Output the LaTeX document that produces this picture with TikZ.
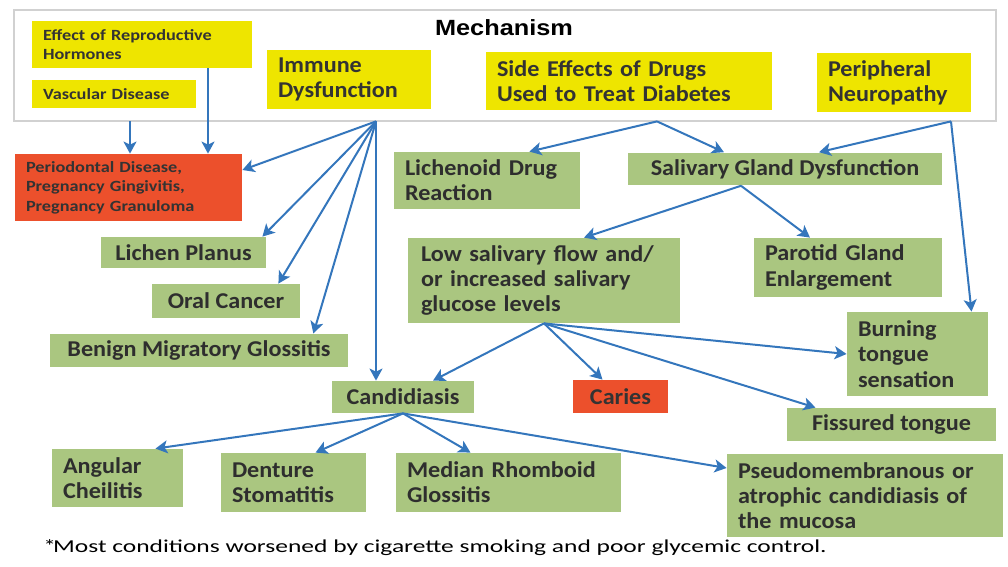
\documentclass[tikz,border=0pt]{standalone}
\usepackage{fontspec}
\setmainfont{Carlito}[FakeStretch=1.07]
\newfontfamily\smallfont{Carlito}[FakeStretch=1.17]
\newfontfamily\notefont{Carlito}[FakeStretch=1.4]
\newfontfamily\headfont{Liberation Sans}[FakeStretch=1.15]
\usetikzlibrary{arrows.meta}
\definecolor{causeyellow}{RGB}{238,229,0}
\definecolor{effectgreen}{RGB}{170,198,128}
\definecolor{severered}{RGB}{236,80,44}
\definecolor{arrowblue}{RGB}{52,118,188}
\tikzstyle{arrow} = [line width=1pt, draw=arrowblue, -{Stealth[length=6pt,width=6.5pt,inset=1.5pt]}]
\tikzstyle{frame} = [rectangle, draw=black!18, line width=0.6pt, fill=white]
\tikzstyle{cause} = [rectangle, fill=causeyellow, text=black!80, font=\bfseries\fontsize{11.3}{12.6}\selectfont, align=left, inner xsep=5.5pt]
\tikzstyle{causesmall} = [rectangle, fill=causeyellow, text=black!80, font=\smallfont\bfseries\fontsize{7.8}{9.7}\selectfont, align=left, inner xsep=5.5pt]
\tikzstyle{effect} = [rectangle, fill=effectgreen, text=black!82, font=\bfseries\fontsize{11.3}{12.6}\selectfont, align=left, inner xsep=5.5pt]
\tikzstyle{severe} = [rectangle, fill=severered, text=black!80, font=\smallfont\bfseries\fontsize{7.8}{9.7}\selectfont, align=left, inner xsep=5.5pt]

\begin{document}
\begin{tikzpicture}[x=0.5pt, y=-0.5pt]
\useasboundingbox (0,0) rectangle (1008,567);
% mechanism row
\node (mechframe) [frame, minimum width=491pt, minimum height=55.5pt] at (505,65.5) {};
\node (mechtitle) [font=\headfont\bfseries\fontsize{11}{13}\selectfont] at (504,28) {Mechanism};
\node (hormones) [causesmall, text width=99pt, minimum height=23.5pt] at (142,44.5) {Effect of Reproductive\\Hormones};
\node (vascular) [causesmall, text width=71pt, minimum height=14pt] at (114,94) {Vascular Disease};
\node (immune) [cause, text width=71pt, minimum height=29.5pt] at (349,79.5) {Immune\\Dysfunction};
\node (sideeff) [cause, text width=132pt, minimum height=29pt] at (629,81) {Side Effects of Drugs\\Used to Treat Diabetes};
\node (periph) [cause, text width=66pt, minimum height=29.5pt] at (894,82.5) {Peripheral\\Neuropathy};

% conditions
\node (perio) [severe, text width=102.5pt, minimum height=33.5pt] at (128.5,187.5) {Periodontal Disease,\\Pregnancy Gingivitis,\\Pregnancy Granuloma};
\node (lichenoid) [effect, text width=82pt, minimum height=28.5pt] at (487,180.5) {Lichenoid Drug\\Reaction};
\node (salivary) [effect, minimum width=157pt, minimum height=16pt] at (785,169) {Salivary Gland Dysfunction};
\node (lichen) [effect, minimum width=82.5pt, minimum height=15.5pt] at (183.5,252.5) {Lichen Planus};
\node (oralca) [effect, minimum width=74pt, minimum height=17pt] at (226,301) {Oral Cancer};
\node (benign) [effect, minimum width=149pt, minimum height=16.5pt] at (199,350.5) {Benign Migratory Glossitis};
\node (lowflow) [effect, inner xsep=6.5pt, text width=123pt, minimum height=42.5pt] at (544,280.5) {Low salivary flow and/\\or increased salivary\\glucose levels};
\node (parotid) [effect, text width=83pt, minimum height=29.5pt] at (848,267.5) {Parotid Gland\\Enlargement};
\node (burning) [effect, text width=59.5pt, minimum height=42pt] at (917.5,354) {Burning\\tongue\\sensation};
\node (caries) [severe, font=\bfseries\fontsize{11.3}{12.6}\selectfont, minimum width=47.5pt, minimum height=16.5pt] at (620.5,396.5) {Caries};
\node (fissured) [effect, minimum width=104.5pt, minimum height=16.5pt] at (891.5,424.5) {Fissured tongue};
\node (candida) [effect, minimum width=71pt, minimum height=16pt] at (403,397) {Candidiasis};
\node (angular) [effect, text width=54.5pt, minimum height=29pt] at (117.5,478) {Angular\\Cheilitis};
\node (denture) [effect, text width=61.5pt, minimum height=29.5pt] at (293.5,482.5) {Denture\\Stomatitis};
\node (median) [effect, text width=101.5pt, minimum height=29.5pt] at (508.5,482.5) {Median Rhomboid\\Glossitis};
\node (pseudo) [effect, text width=127pt, minimum height=41.5pt] at (865,495.5) {Pseudomembranous or\\atrophic candidiasis of\\the mucosa};
\node (note) [anchor=west, inner sep=0pt, font=\notefont\fontsize{9.1}{11}\selectfont] at (43,548) {*\kern-1.5pt Most conditions worsened by cigarette smoking and poor glycemic control.};

% arrow start points on the frame
\coordinate (vascout) at ([xshift=8pt,yshift=-6.5pt]vascular.south);
\coordinate (hormout) at ([xshift=33pt]hormones.south);
\coordinate (immhub) at ([xshift=13.5pt,yshift=-6pt]immune.south);
\coordinate (sidehub) at ([xshift=14pt,yshift=-5.5pt]sideeff.south);
\coordinate (periphhub) at ([xshift=28.5pt,yshift=-4.5pt]periph.south);
\coordinate (salhub) at ([xshift=-22pt]salivary.south);

\draw [arrow] (vascout) -- (vascout |- perio.north);
\draw [arrow] (hormout) -- (hormout |- perio.north);
\draw [arrow] (immhub) -- ([yshift=8.75pt]perio.east);
\draw [arrow] (immhub) -- ([xshift=-2pt]lichen.north east);
\draw [arrow] (immhub) -- ([xshift=-11pt]oralca.north east);
\draw [arrow] (immhub) -- ([xshift=-17.5pt]benign.north east);
\draw [arrow] (immhub) -- (immhub |- candida.north);
\draw [arrow] (sidehub) -- ([xshift=-25.5pt]lichenoid.north east);
\draw [arrow] (sidehub) -- ([xshift=-30.5pt]salivary.north);
\draw [arrow] (periphhub) -- ([xshift=17pt]salivary.north);
\draw [arrow] (periphhub) -- ([xshift=27pt]burning.north);
\draw [arrow] (salhub) -- ([xshift=20pt]lowflow.north);
\draw [arrow] (salhub) -- ([xshift=-19pt]parotid.north);
\draw [arrow] (lowflow.south) -- ([xshift=15pt]candida.north);
\draw [arrow] (lowflow.south) -- ([xshift=-9pt]caries.north);
\draw [arrow] (lowflow.south) -- (burning.west);
\draw [arrow] (lowflow.south) -- ([xshift=-38pt]fissured.north);
\draw [arrow] (candida.south) -- ([xshift=19pt]angular.north);
\draw [arrow] (candida.south) -- ([xshift=11pt]denture.north);
\draw [arrow] (candida.south) -- ([xshift=-19pt]median.north);
\draw [arrow] (candida.south) -- ([yshift=13.75pt]pseudo.west);
\end{tikzpicture}
\end{document}
